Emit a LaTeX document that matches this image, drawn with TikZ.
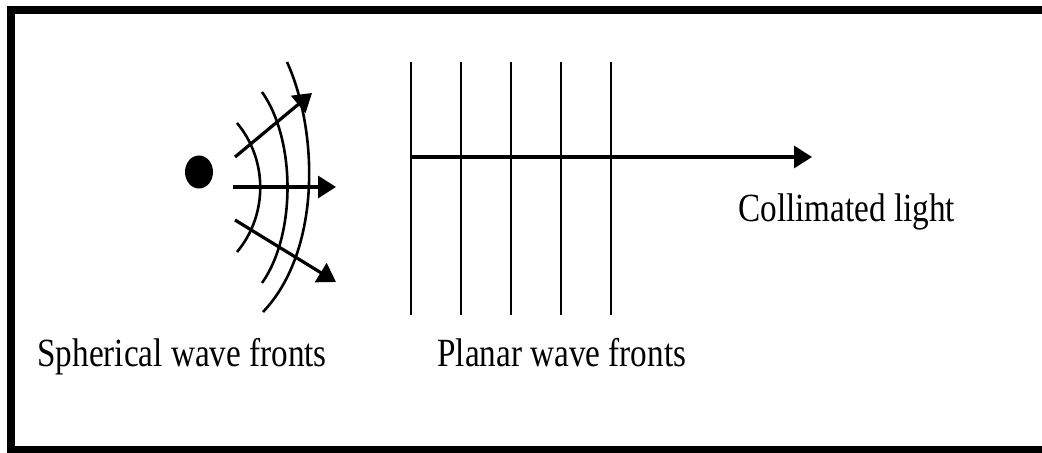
\documentclass[tikz,border=0pt]{standalone}
\usepackage{fontspec}
\setmainfont{Liberation Serif}[FakeStretch=0.83]
\usetikzlibrary{arrows.meta,shapes.geometric}

\tikzset{
    ray/.style={line width=1.6pt, -{Triangle[length=9pt,width=11pt]}},
    front/.style={line width=1.3pt},
    plane/.style={line width=1.2pt},
    lbl/.style={anchor=base west, inner sep=0pt, font=\fontsize{20pt}{24pt}\selectfont}
}

\begin{document}
\begin{tikzpicture}[x=0.5pt, y=-0.5pt]
    \useasboundingbox (0,0) rectangle (1042,453);
    \draw[line width=4pt] (1042,10) -- (11,10) -- (11,449.5) -- (1042,449.5);

    % point source
    \node[ellipse, fill, inner sep=0pt, minimum width=14pt, minimum height=16.5pt] (src) at (199,172) {};

    % spherical fronts
    \draw[front] (237,123) .. controls (268,160) and (268,215) .. (237,252);
    \draw[front] (262,92) .. controls (296,140) and (296,235) .. (262,283);
    \draw[front] (287,62) .. controls (318,130) and (322,250) .. (263,312);

    \draw[ray] (235,157) -- (312,93);
    \draw[ray] (233,187) -- (336,187);
    \draw[ray] (235,220) -- (336,282);

    % planar fronts
    \foreach \x in {411,461,511,561,611}
        \draw[plane] (\x,62) -- (\x,315);
    \draw[ray] (411,157) -- (812,157);

    \node[lbl] (sph) at (37,367) {Spherical wave fronts};
    \node[lbl] (pla) at (437,367) {Planar wave fronts};
    \node[lbl] (col) at (738,222) {Collimated light};
\end{tikzpicture}
\end{document}
